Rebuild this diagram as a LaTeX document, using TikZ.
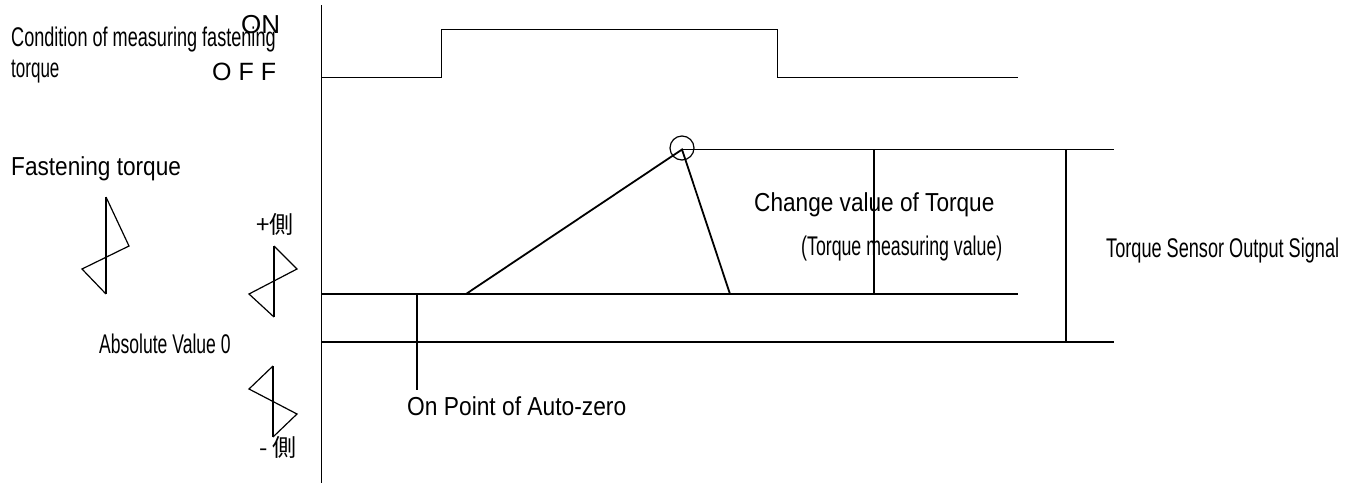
\documentclass[tikz,border=0pt]{standalone}
\usepackage{fontspec}
\usepackage{graphicx}
\setmainfont{Liberation Sans}
\newfontfamily\cjk{Noto Sans CJK JP}
\tikzset{
  lbl/.style={inner sep=0pt, anchor=base west, font=\fontsize{26}{30}\selectfont},
  nlbl/.style={inner sep=0pt, anchor=base west, font=\fontsize{27}{31}\selectfont},
  cjklbl/.style={inner sep=0pt, anchor=base west, font=\cjk\fontsize{24}{28}\selectfont},
  ln/.style={line width=1.8pt, line cap=butt, line join=miter},
  thinln/.style={line width=1.2pt, line join=miter}
}
\begin{document}
\begin{tikzpicture}[x=1pt,y=-1pt]
\useasboundingbox (0,0) rectangle (1360,483);
% coordinates
\coordinate (axT) at (321.5,5);
\coordinate (axB) at (321.5,483);
% step signal
\coordinate (s0) at (321.5,77.5);
\coordinate (s1) at (441.5,77.5);
\coordinate (s2) at (441.5,29.5);
\coordinate (s3) at (777.5,29.5);
\coordinate (s4) at (777.5,77.5);
\coordinate (s5) at (1018,77.5);
% levels
\coordinate (m0) at (321.5,294);
\coordinate (m1) at (1018,294);
\coordinate (l0) at (321.5,342);
\coordinate (l1) at (1114,342);
\coordinate (peak) at (682,149.5);
\coordinate (u1) at (1114,149.5);
\coordinate (r0) at (466,294);
\coordinate (d1) at (730,294);
\coordinate (v1t) at (874,149.5);
\coordinate (v1b) at (874,294);
\coordinate (v2t) at (1066,149.5);
\coordinate (v2b) at (1066,342);
\coordinate (azt) at (417,294);
\coordinate (azb) at (417,390);

\draw[ln] (axT) -- (axB);
\draw[ln] (s0) -- (s1) -- (s2) -- (s3) -- (s4) -- (s5);
\draw[ln] (m0) -- (m1);
\draw[ln] (l0) -- (l1);
\draw[ln] (r0) -- (peak) -- (d1);
\draw[ln] (peak) -- (u1);
\draw[ln] (v1t) -- (v1b);
\draw[ln] (v2t) -- (v2b);
\draw[ln] (azt) -- (azb);
\node[draw, thinln, circle, minimum size=24pt, inner sep=0pt] (pc) at (682,148) {};

% zigzag symbols
\draw[thinln] (106,197) -- (106,294);
\draw[thinln] (106,197) -- (129,246) -- (82,269) -- (106,294);
\draw[thinln] (274,246) -- (274,317);
\draw[thinln] (274,246) -- (297,269) -- (249,294) -- (274,317);
\draw[thinln] (273,366) -- (273,437);
\draw[thinln] (273,366) -- (249,389) -- (297,414) -- (273,437);

% texts
\node[nlbl] (cond) at (11,46) {\scalebox{0.67}[1]{Condition of measuring fastening}};
\node[nlbl] (cond2) at (11,77) {\scalebox{0.63}[1]{torque}};
\node[lbl] (on) at (241,33) {ON};
\node[lbl, font=\fontsize{25}{30}\selectfont] (off) at (212,80) {O F F};
\node[lbl] (fast) at (11,175) {\scalebox{0.87}[1]{Fastening torque}};
\node[cjklbl] (plus) at (256,233) {+側};
\node[cjklbl] (minus) at (259,456) {- 側};
\node[nlbl] (abs) at (99,353) {\scalebox{0.65}[1]{Absolute Value 0}};
\node[lbl] (onp) at (407,415) {\scalebox{0.876}[1]{On Point of Auto-zero}};
\node[lbl] (chg) at (754,211) {\scalebox{0.87}[1]{Change value of Torque}};
\node[nlbl] (tmv) at (801,255) {\scalebox{0.657}[1]{(Torque measuring value)}};
\node[nlbl] (tso) at (1106,257) {\scalebox{0.672}[1]{Torque Sensor Output Signal}};
\end{tikzpicture}
\end{document}
